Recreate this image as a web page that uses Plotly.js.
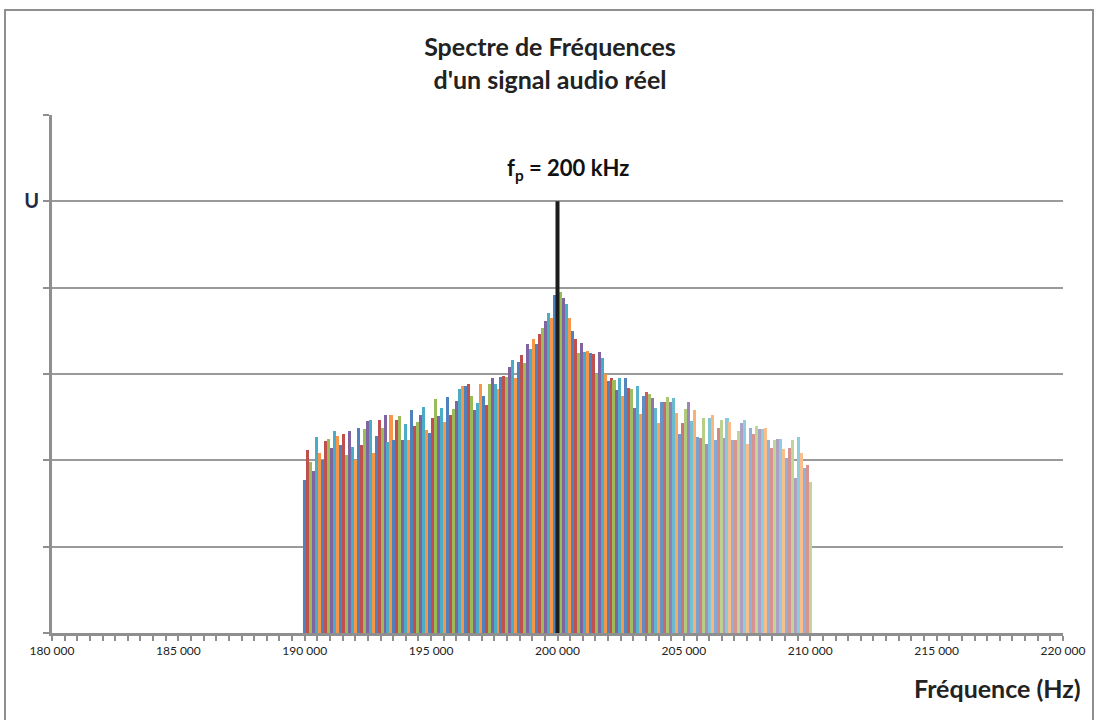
<!DOCTYPE html>
<html>
<head>
<meta charset="utf-8">
<script src="https://cdn.plot.ly/plotly-3.0.1.min.js"></script>
<style>
  html, body { margin: 0; padding: 0; background: #fff; }
  #chart { position: absolute; left: 0; top: 0; width: 1100px; height: 720px; }
  #frame { position: absolute; left: 4px; top: 9px; width: 1090px; height: 720px;
           border: 2px solid #8f8f8f; pointer-events: none; box-sizing: border-box; }
</style>
</head>
<body>
<div id="chart"></div>
<div id="frame"></div>
<script>
// ---- data ----
const freqStart = 190000;   // Hz
const freqEnd = 210000;     // Hz
const carrierFreq = 200000; // f_p
const carrierAmp = 5;       // U

const amplitudes = [
  // 190 000 -> ~200 000
  1.77, 2.12, 1.98, 1.88, 2.27, 2.09, 2.00, 2.22, 2.25, 2.14, 2.34, 2.28, 2.18, 2.31, 2.06, 2.34,
  2.15, 2.00, 2.38, 2.18, 2.36, 2.45, 2.47, 2.09, 2.28, 2.47, 2.38, 2.53, 2.21, 2.53, 2.23, 2.47,
  2.51, 2.23, 2.42, 2.23, 2.58, 2.40, 2.44, 2.53, 2.62, 2.35, 2.32, 2.49, 2.71, 2.51, 2.61, 2.44,
  2.73, 2.53, 2.60, 2.69, 2.83,
  2.86, 2.86, 2.88, 2.75, 2.58, 2.66, 2.89, 2.75, 2.64, 2.89, 2.95, 2.88, 2.83, 2.96, 2.98, 2.96,
  3.08, 3.16, 2.95, 3.14, 3.22, 3.13, 3.35, 3.29, 3.41, 3.35, 3.46, 3.53, 3.61, 3.71, 3.65, 3.92,
  // 200 000
  3.97,
  // ~200 000 -> 210 000
  3.95, 3.88, 3.81, 3.65, 3.50, 3.40, 3.24, 3.36, 3.26, 3.27, 3.24, 3.23, 3.00, 3.25, 3.19, 3.00,
  2.92, 2.95, 2.93, 2.81, 2.95, 2.74, 2.95, 2.84, 2.83, 2.61, 2.86, 2.54, 2.75, 2.79, 2.77, 2.72,
  2.61, 2.43, 2.67, 2.68, 2.73, 2.68, 2.72, 2.55, 2.31, 2.43, 2.59, 2.67, 2.45, 2.58, 2.27, 2.26,
  2.49, 2.19, 2.49, 2.52, 2.23, 2.38, 2.47, 2.26, 2.49, 2.44, 2.23, 2.24, 2.34, 2.43, 2.47, 2.19,
  2.38, 2.30, 2.40, 2.36, 2.36, 2.38, 2.23, 2.14, 2.23, 2.25, 2.25, 2.13, 2.03, 2.14, 2.23, 1.80,
  2.27, 2.09, 1.91, 1.95, 1.75
];

const xTickVals = [180000, 185000, 190000, 195000, 200000, 205000, 210000, 215000, 220000];
const yLabelVals = [5];
const yLabelText = ['U'];

// ---- build ----
const n = amplitudes.length;
const step = (freqEnd - freqStart) / (n - 1);
const freqs = amplitudes.map((_, i) => freqStart + i * step);

const palette = ['#4F81BD', '#C0504D', '#9BBB59', '#8064A2', '#4BACC6', '#F79646'];
function lighten(hex, f) {
  const r = parseInt(hex.slice(1, 3), 16), g = parseInt(hex.slice(3, 5), 16), b = parseInt(hex.slice(5, 7), 16);
  const m = c => Math.round(c + (255 - c) * f);
  return 'rgb(' + m(r) + ',' + m(g) + ',' + m(b) + ')';
}
const colors = freqs.map((_, i) => {
  const f = i < 105 ? 0 : Math.min(0.38, (i - 105) / 40 * 0.38);
  return lighten(palette[i % palette.length], f);
});

const bars = {
  type: 'bar',
  x: freqs,
  y: amplitudes,
  width: step * 1.02,
  marker: { color: colors, line: { width: 0 } },
  hoverinfo: 'x+y'
};

const carrier = {
  type: 'scatter',
  mode: 'lines',
  x: [carrierFreq, carrierFreq],
  y: [0, carrierAmp],
  line: { color: '#1c1c1c', width: 4 },
  hoverinfo: 'skip'
};

const font = 'Lato, "Open Sans", "DejaVu Sans", sans-serif';

const layout = {
  width: 1100,
  height: 720,
  margin: { l: 52, r: 37, t: 115, b: 87 },
  paper_bgcolor: '#ffffff',
  plot_bgcolor: '#ffffff',
  showlegend: false,
  bargap: 0,
  separators: ', ',
  font: { family: font, color: '#222' },
  title: {
    text: '<b>Spectre de Fréquences<br>d\'un signal audio réel</b>',
    font: { family: font, size: 25, color: '#222' },
    x: 0.5, xanchor: 'center',
    y: 0.922, yanchor: 'middle'
  },
  xaxis: {
    range: [180000, 220000],
    tickvals: xTickVals,
    tickformat: ',d',
    ticks: 'outside', ticklen: 5, tickwidth: 2, tickcolor: '#8f8f8f',
    minor: { dtick: 500, tick0: 180000, ticks: 'outside', ticklen: 5, tickwidth: 2, tickcolor: '#8f8f8f', showgrid: false },
    tickfont: { family: font, size: 12, color: '#222' },
    showline: true, linecolor: '#8f8f8f', linewidth: 3,
    showgrid: false, zeroline: false,
    fixedrange: true
  },
  yaxis: {
    range: [0, 6],
    tickvals: yLabelVals,
    ticktext: yLabelText,
    ticks: 'outside', ticklen: 6, tickwidth: 2, tickcolor: '#8f8f8f',
    minor: { dtick: 1, tick0: 0, ticks: 'outside', ticklen: 6, tickwidth: 2, tickcolor: '#8f8f8f',
             showgrid: true, gridcolor: '#9a9a9a', gridwidth: 2 },
    tickfont: { family: font, size: 20, color: '#1f2a44', weight: 'bold' },
    showline: true, linecolor: '#8f8f8f', linewidth: 3,
    showgrid: true, gridcolor: '#9a9a9a', gridwidth: 2,
    zeroline: false,
    fixedrange: true
  },
  annotations: [
    {
      x: carrierFreq, y: carrierAmp, xref: 'x', yref: 'y',
      text: '<b>f<sub>p</sub> = 200 kHz</b>',
      showarrow: false, xanchor: 'center', yanchor: 'bottom',
      xshift: 10, yshift: 15,
      font: { family: font, size: 22, color: '#111' }
    },
    {
      x: 1.02, y: 0, xref: 'paper', yref: 'paper',
      text: '<b>Fréquence (Hz)</b>',
      showarrow: false, xanchor: 'right', yanchor: 'top',
      yshift: -38,
      font: { family: font, size: 25, color: '#222' }
    }
  ]
};

Plotly.newPlot('chart', [bars, carrier], layout, { displayModeBar: false, staticPlot: true });
</script>
</body>
</html>
